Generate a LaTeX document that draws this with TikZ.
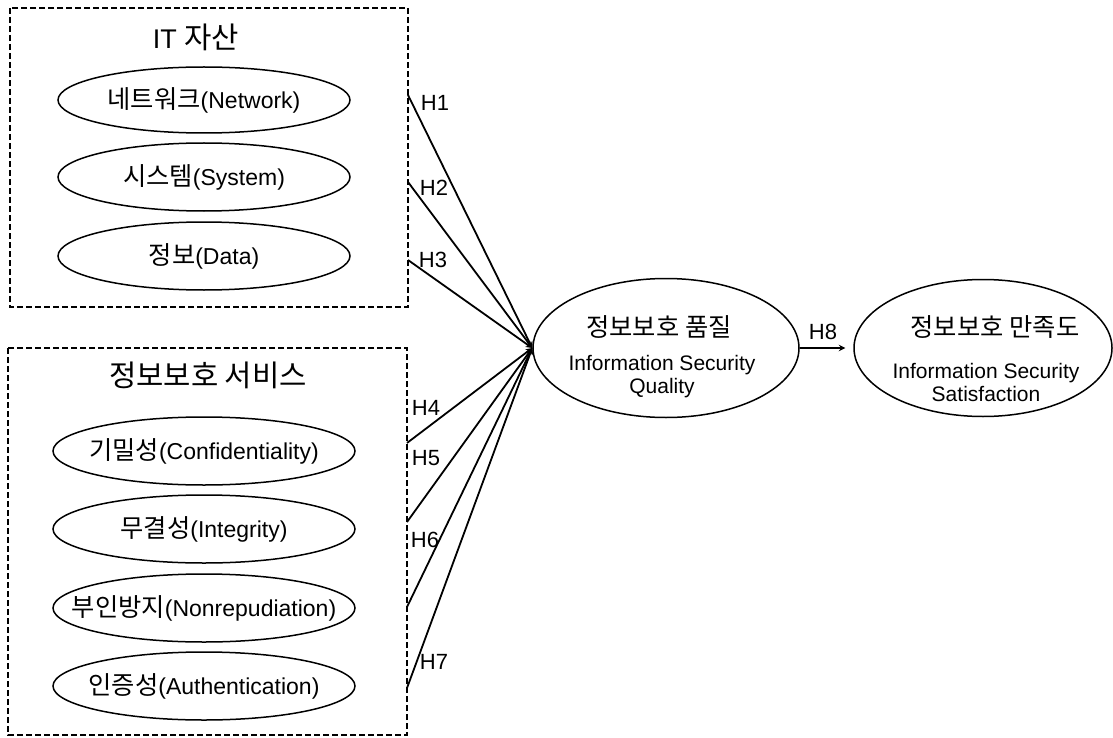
\documentclass[tikz,border=0pt]{standalone}
\usepackage{fontspec}
\setmainfont{Liberation Sans}
\newfontfamily\kr[Scale=1.1]{Noto Sans CJK KR}
\usetikzlibrary{shapes.geometric}

\tikzstyle{grp}=[black, line width=1.8pt, dash pattern=on 6pt off 3pt, draw]
\tikzstyle{item}=[black, line width=1.5pt, draw, ellipse, inner ysep=0pt, inner xsep=-40pt, font=\fontsize{23}{27}\selectfont]
\tikzstyle{title}=[inner sep=0pt, font=\fontsize{27}{31}\selectfont]
\tikzstyle{sub}=[inner sep=0pt, align=center, font=\fontsize{21}{23}\selectfont]
\tikzstyle{edge}=[black, line width=1.8pt, draw, ->, >=stealth]
\tikzstyle{hyp}=[inner sep=0pt, font=\fontsize{22}{25}\selectfont]

\begin{document}
\begin{tikzpicture}[x=1pt, y=-1pt]
  \useasboundingbox (0,0) rectangle (1113,738);

  % IT assets
  \draw [grp] (10,8) rectangle (408,307);
  \node [title] (ittitle) at (196,37) {IT {\kr 자산}};
  \node [item, minimum width=292pt, minimum height=66pt] (net) at (204,100) {{\kr 네트워크}(Network)};
  \node [item, minimum width=292pt, minimum height=68pt] (sys) at (204,177) {{\kr 시스템}(System)};
  \node [item, minimum width=292pt, minimum height=68pt] (dat) at (204,256) {{\kr 정보}(Data)};

  % security services
  \draw [grp] (8,348) rectangle (407,735);
  \node [title] (svctitle) at (208,375) {\kr 정보보호 서비스};
  \node [item, minimum width=302pt, minimum height=68pt] (conf) at (204,451) {{\kr 기밀성}(Confidentiality)};
  \node [item, minimum width=302pt, minimum height=68pt] (integ) at (204,529) {{\kr 무결성}(Integrity)};
  \node [item, minimum width=302pt, minimum height=68pt] (nonrep) at (204,608) {{\kr 부인방지}(Nonrepudiation)};
  \node [item, minimum width=302pt, minimum height=68pt] (auth) at (204,686) {{\kr 인증성}(Authentication)};

  % quality and satisfaction
  \node [item, minimum width=266pt, minimum height=139pt] (qual) at (666,348) {};
  \node [item, minimum width=258pt, minimum height=137pt] (sat) at (983,348) {};
  \node [title, font=\fontsize{23}{27}\selectfont] (qualkr) at (659,327) {\kr 정보보호 품질};
  \node [sub] (qualen) at (662,377) {Information Security\\Quality};
  \node [title, font=\fontsize{23}{27}\selectfont] (satkr) at (995,327) {\kr 정보보호 만족도};
  \node [sub] (saten) at (986,382) {Information Security\\Satisfaction};

  \coordinate (s1) at (408,95);
  \coordinate (s2) at (408,182);
  \coordinate (s3) at (408,260);
  \coordinate (s4) at (407,443);
  \coordinate (s5) at (407,522);
  \coordinate (s6) at (407,607);
  \coordinate (s7) at (407,688);

  \draw [edge] (s1) -- (qual.west);
  \draw [edge] (s2) -- (qual.west);
  \draw [edge] (s3) -- (qual.west);
  \draw [edge] (s4) -- (qual.west);
  \draw [edge] (s5) -- (qual.west);
  \draw [edge] (s6) -- (qual.west);
  \draw [edge] (s7) -- (qual.west);
  \draw [edge, shorten >=8pt] (qual.east) -- (sat.west);

  \node [hyp] (h1) at (435,103) {H1};
  \node [hyp] (h2) at (434,188) {H2};
  \node [hyp] (h3) at (433,260) {H3};
  \node [hyp] (h4) at (426,408) {H4};
  \node [hyp] (h5) at (426,458) {H5};
  \node [hyp] (h6) at (425,540) {H6};
  \node [hyp] (h7) at (434,662) {H7};
  \node [hyp] (h8) at (823,332) {H8};
\end{tikzpicture}
\end{document}
